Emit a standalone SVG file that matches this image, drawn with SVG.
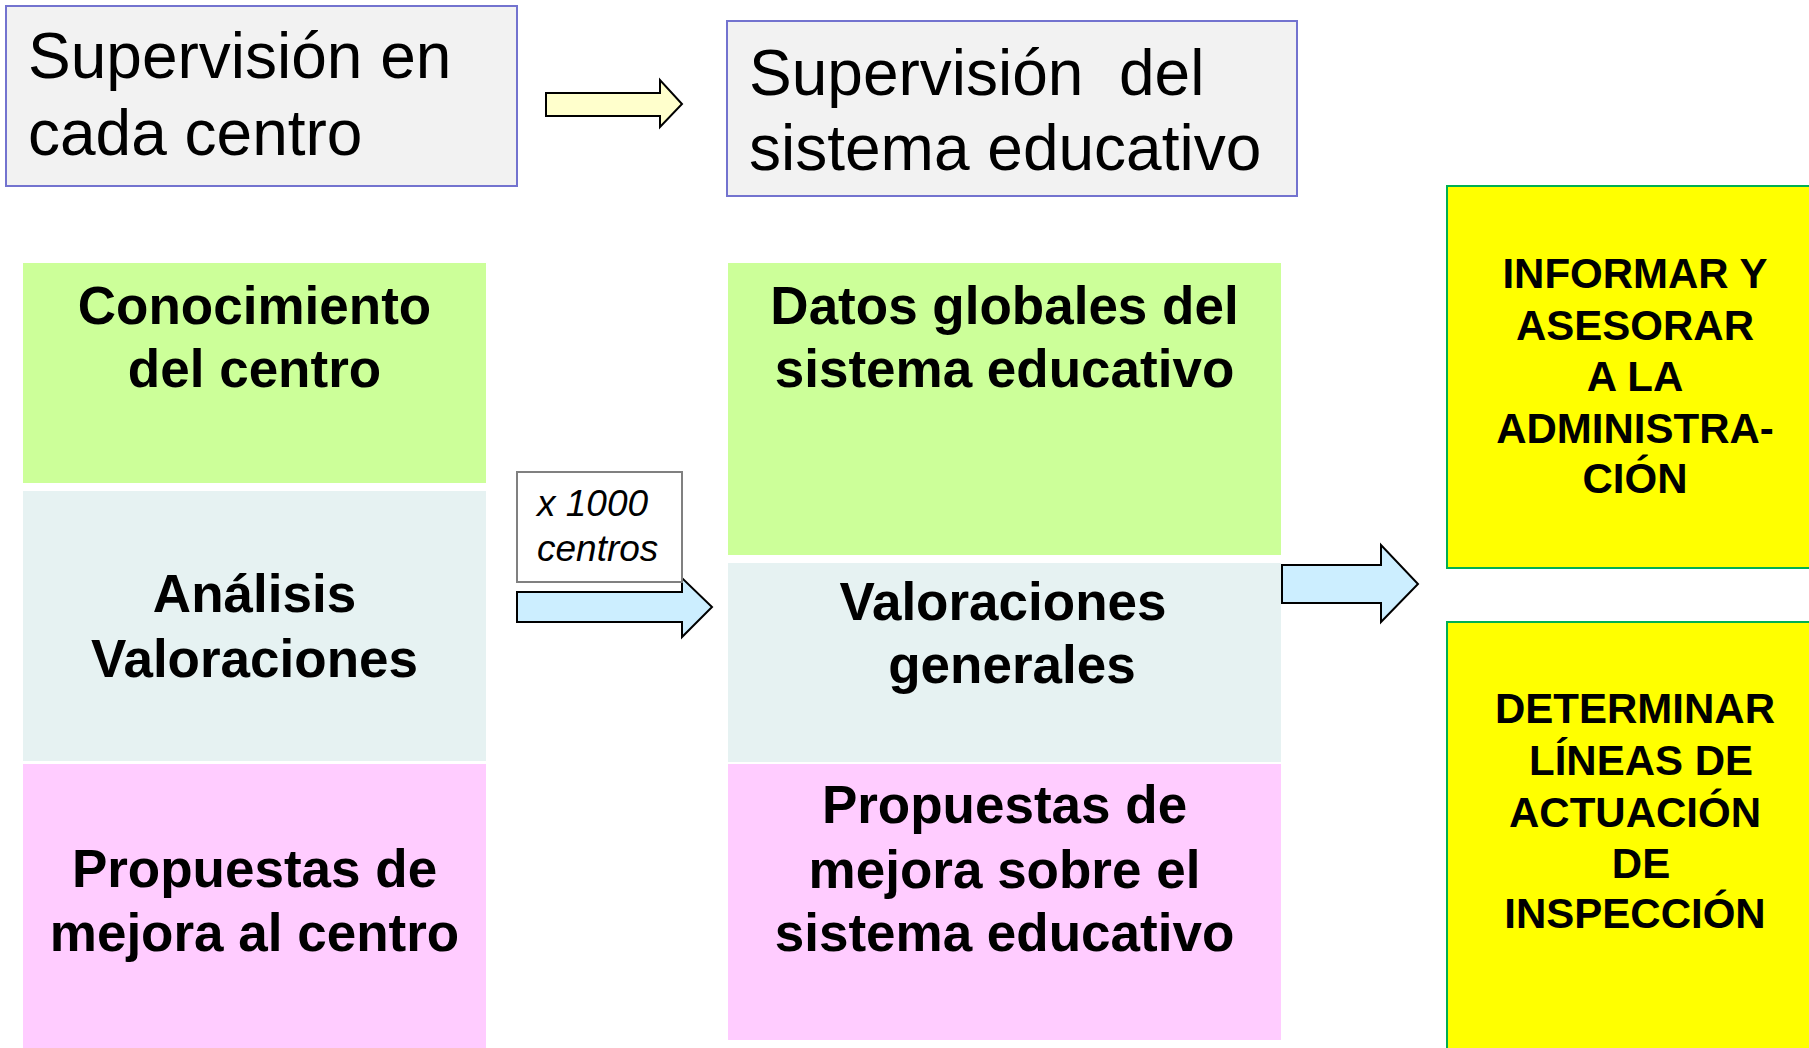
<svg xmlns="http://www.w3.org/2000/svg" width="1809" height="1048" viewBox="0 0 1809 1048">
<style>
.hdr{fill:#f2f2f2;stroke:#7373cf;stroke-width:2}
.ht{font-family:"Liberation Sans",Arial,sans-serif;font-size:64px;fill:#000}
.bt{font-family:"Liberation Sans",Arial,sans-serif;font-size:53px;font-weight:bold;fill:#000;text-anchor:middle}
.yt{font-family:"Liberation Sans",Arial,sans-serif;font-size:42px;font-weight:bold;fill:#000;text-anchor:middle}
.it{font-family:"Liberation Sans",Arial,sans-serif;font-size:37px;font-style:italic;fill:#000}
.green{fill:#ccff99}
.blue{fill:#e6f2f2}
.pink{fill:#ffccff}
.yel{fill:#ffff00;stroke:#00b050;stroke-width:2}
.arrB{fill:#cceeff;stroke:#000;stroke-width:2}
.arrY{fill:#ffffcc;stroke:#000;stroke-width:2}
</style>
<rect width="1809" height="1048" fill="#fff"/>
<g id="connectors">
<path class="arrY" d="M546,93 H660 V80 L682,104 L660,127 V116 H546 Z"/>
<path class="arrB" d="M517,592 H682 V578 L712,607 L682,637 V622 H517 Z"/>
<path class="arrB" d="M1282,565 H1381 V545 L1418,584 L1381,622 V603 H1282 Z"/>
</g>
<g id="hdr-centro">
<rect class="hdr" x="6" y="6" width="511" height="180"/>
<text class="ht" x="28" y="78">Supervisión en</text>
<text class="ht" x="28" y="155">cada centro</text>
</g>
<g id="hdr-sistema">
<rect class="hdr" x="727" y="21" width="570" height="175"/>
<text class="ht" x="749" y="95" xml:space="preserve">Supervisión  del</text>
<text class="ht" x="749" y="170">sistema educativo</text>
</g>
<g id="conocimiento">
<rect class="green" x="23" y="263" width="463" height="220"/>
<text class="bt" x="254.5" y="324">Conocimiento</text>
<text class="bt" x="254.5" y="387">del centro</text>
</g>
<g id="analisis">
<rect class="blue" x="23" y="491" width="463" height="270"/>
<text class="bt" x="254.5" y="612">Análisis</text>
<text class="bt" x="254.5" y="677">Valoraciones</text>
</g>
<g id="propuestas-centro">
<rect class="pink" x="23" y="764" width="463" height="284"/>
<text class="bt" x="254.5" y="887">Propuestas de</text>
<text class="bt" x="254.5" y="951">mejora al centro</text>
</g>
<g id="label-1000">
<rect x="517" y="472" width="165" height="110" fill="#fff" stroke="#808080" stroke-width="2"/>
<text class="it" x="537" y="516">x 1000</text>
<text class="it" x="537" y="561">centros</text>
</g>
<g id="datos-globales">
<rect class="green" x="728" y="263" width="553" height="292"/>
<text class="bt" x="1004.5" y="324">Datos globales del</text>
<text class="bt" x="1004.5" y="387">sistema educativo</text>
</g>
<g id="valoraciones-generales">
<rect class="blue" x="728" y="563" width="553" height="199"/>
<text class="bt" x="1003" y="620">Valoraciones</text>
<text class="bt" x="1012" y="683">generales</text>
</g>
<g id="propuestas-sistema">
<rect class="pink" x="728" y="764" width="553" height="276"/>
<text class="bt" x="1004.5" y="823">Propuestas de</text>
<text class="bt" x="1004.5" y="888">mejora sobre el</text>
<text class="bt" x="1004.5" y="951">sistema educativo</text>
</g>
<g id="informar">
<rect class="yel" x="1447" y="186" width="400" height="382"/>
<text class="yt" x="1635" y="288">INFORMAR Y</text>
<text class="yt" x="1635" y="340">ASESORAR</text>
<text class="yt" x="1635" y="391">A LA</text>
<text class="yt" x="1635" y="443">ADMINISTRA-</text>
<text class="yt" x="1635" y="493">CIÓN</text>
</g>
<g id="determinar">
<rect class="yel" x="1447" y="622" width="400" height="450"/>
<text class="yt" x="1635" y="723">DETERMINAR</text>
<text class="yt" x="1641" y="775">LÍNEAS DE</text>
<text class="yt" x="1635" y="827">ACTUACIÓN</text>
<text class="yt" x="1641" y="878">DE</text>
<text class="yt" x="1635" y="928">INSPECCIÓN</text>
</g>
</svg>
